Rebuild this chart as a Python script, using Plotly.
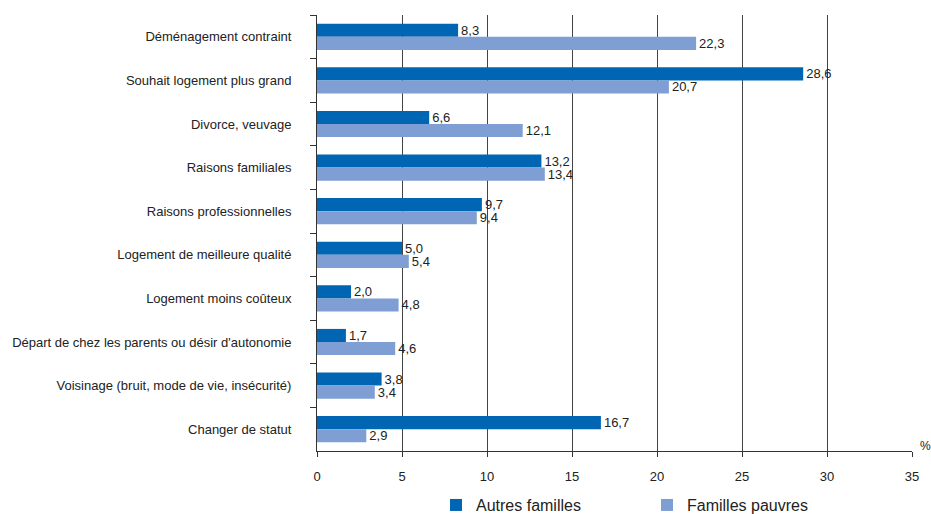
import plotly.graph_objects as go

categories = [
    "Déménagement contraint",
    "Souhait logement plus grand",
    "Divorce, veuvage",
    "Raisons familiales",
    "Raisons professionnelles",
    "Logement de meilleure qualité",
    "Logement moins coûteux",
    "Départ de chez les parents ou désir d'autonomie",
    "Voisinage (bruit, mode de vie, insécurité)",
    "Changer de statut",
]
autres_familles = [8.3, 28.6, 6.6, 13.2, 9.7, 5.0, 2.0, 1.7, 3.8, 16.7]
familles_pauvres = [22.3, 20.7, 12.1, 13.4, 9.4, 5.4, 4.8, 4.6, 3.4, 2.9]
x_ticks = [0, 5, 10, 15, 20, 25, 30, 35]

FONT = "Liberation Sans"
TXT = "#222222"

fig = go.Figure()
fig.add_trace(go.Bar(
    y=categories, x=autres_familles, orientation="h", name="Autres familles",
    marker=dict(color="#0066b3", line=dict(width=0)),
    texttemplate="%{x:.1f}", textposition="outside", cliponaxis=False,
    constraintext="none", textfont=dict(family=FONT, size=13, color=TXT),
))
fig.add_trace(go.Bar(
    y=categories, x=familles_pauvres, orientation="h", name="Familles pauvres",
    marker=dict(color="#7f9fd4", line=dict(width=0)),
    texttemplate="%{x:.1f}", textposition="outside", cliponaxis=False,
    constraintext="none", textfont=dict(family=FONT, size=13, color=TXT),
))

fig.update_layout(
    width=931, height=514,
    margin=dict(l=317, r=19, t=15, b=63, autoexpand=False),
    paper_bgcolor="white", plot_bgcolor="white",
    barmode="group", bargap=0.4, bargroupgap=0,
    separators=", ",
    font=dict(family=FONT, size=13, color=TXT),
    showlegend=True,
    legend=dict(orientation="h", x=0.2, xanchor="left", y=-0.085, yanchor="top",
                font=dict(family=FONT, size=16, color=TXT),
                itemwidth=30, tracegroupgap=0,
                entrywidth=166, entrywidthmode="pixels"),
    xaxis=dict(range=[0, 35], tickvals=x_ticks, ticktext=[str(v) for v in x_ticks],
               showgrid=True, gridcolor="#444444", gridwidth=1,
               showline=True, linecolor="#333333", linewidth=1,
               ticks="outside", ticklen=5, tickcolor="#333333",
               ticklabelstandoff=8, zeroline=False,
               tickfont=dict(family=FONT, size=13, color=TXT)),
    yaxis=dict(autorange="reversed", tickson="boundaries",
               showline=True, linecolor="#333333", linewidth=1,
               ticks="outside", ticklen=6, tickcolor="#333333",
               ticklabelstandoff=22, showgrid=False,
               tickfont=dict(family=FONT, size=13, color=TXT)),
)
fig.add_annotation(text="%", xref="paper", yref="paper", x=1.0, y=0.0,
                   xanchor="left", yanchor="bottom", xshift=6, yshift=-4,
                   showarrow=False, font=dict(family=FONT, size=12, color=TXT))

fig.write_html("out.html")
